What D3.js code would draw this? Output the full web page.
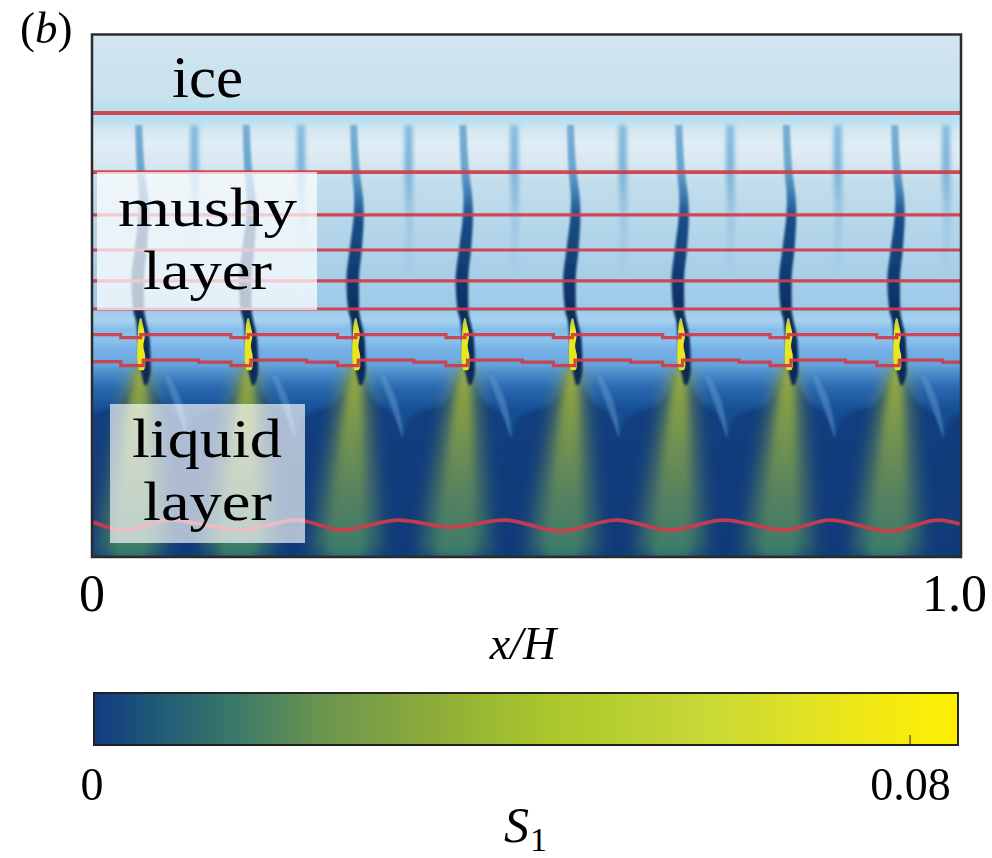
<!DOCTYPE html>
<html>
<head>
<meta charset="utf-8">
<script src="https://cdn.jsdelivr.net/npm/d3@7/dist/d3.min.js"></script>
<style>
  html, body { margin: 0; padding: 0; background: #fff; }
  svg { display: block; }
  text { font-family: "Liberation Serif", serif; fill: #000; }
</style>
</head>
<body>
<div id="chart"></div>
<script>
// values, x and z both in units of H
const plumeX = [0.055, 0.179, 0.303, 0.429, 0.553, 0.678, 0.802, 0.927];
const weakX = [0.117, 0.240, 0.364, 0.486, 0.611, 0.735, 0.859, 0.984];
const lobeEdgeX = [-0.07, 1.052]; // plumes just outside the frame

const xTickValues = [0, 0.993];
const xTickLabels = ['0', '1.0'];
const sTickValues = [0, 0.08];
const sTickLabels = ['0', '0.08'];

// field colour down the depth
const fieldDepth = [0, 0.028, 0.068, 0.079, 0.097, 0.108, 0.1256, 0.1486, 0.166, 0.206, 0.2465, 0.282, 0.3145, 0.328, 0.338, 0.35, 0.362, 0.3744, 0.387, 0.405, 0.42, 0.599];
const fieldColor = ['#d4e6f0', '#cde3ef', '#cbe2ee', '#bbe1ef', '#b6e0f0', '#d4e7f2', '#e1edf4', '#d6e7f1', '#c4deec', '#b8d8ea', '#aed2e9', '#a6cee8', '#9ccaea', '#a6d2ef', '#84bdea', '#8cc3ed', '#74afe6', '#6eaae0', '#3f7dbd', '#1a4f94', '#123f80', '#113a78'];

// lobes under the mushy layer, fraction of the way to the next plume
const lobeFrac = [0.06, 0.12, 0.2, 0.3, 0.38, 0.43, 0.48, 0.6, 0.8, 0.88, 0.93];
const lobeDepth = [0.387, 0.408, 0.424, 0.431, 0.44, 0.462, 0.44, 0.433, 0.425, 0.41, 0.3905];
const lobeTop = 0.3756;

const streakFrac = [0.24, 0.32, 0.38, 0.43];
const streakDepth = [0.3905, 0.4136, 0.4366, 0.462];
const streakWidth = [0.005, 0.009, 0.007, 0.001];

// channels
const channelDepth = [0.1025, 0.154, 0.189, 0.206, 0.2465, 0.281, 0.316, 0.327, 0.35, 0.385, 0.402];
const channelShift = [-0.0023, 0, 0.0035, 0.0035, 0, -0.0035, -0.0023, 0, 0.0035, 0.0058, 0.0058];
const channelWidth = [0.008, 0.009, 0.0104, 0.0115, 0.014, 0.0145, 0.0125, 0.0115, 0.014, 0.0115, 0.0035];
const weakDepth = [0.1025, 0.154, 0.206, 0.25, 0.295];
const weakShift = [0, 0, 0.001, 0, 0];
const weakWidth = [0.0092, 0.0098, 0.009, 0.008, 0.005];

const coreDepth = [0.325, 0.333, 0.345, 0.357, 0.369, 0.38, 0.385];
const coreShift = [0, 0, 0.0008, -0.0004, 0.0006, 0.001, 0.001];
const coreWidth = [0.002, 0.0052, 0.008, 0.007, 0.0092, 0.0085, 0.005];

const plumeDepth = [0.3825, 0.419, 0.4765, 0.534, 0.599];
const plumeHalf = [0.0065, 0.012, 0.019, 0.026, 0.033];
const plumeLean = [0, -0.002, -0.005, -0.008, -0.0115];

// red contours
const flatLineDepths = [0.0887, 0.1567, 0.206, 0.2465, 0.282, 0.3145];
const stepAX = [0, 0.032, 0.055, 0.159, 0.179, 0.282, 0.303, 0.407, 0.429, 0.531, 0.553, 0.657, 0.677, 0.781, 0.802, 0.904, 0.927, 1];
const stepAZ = [0.344, 0.3474, 0.344, 0.3474, 0.344, 0.3474, 0.344, 0.3474, 0.344, 0.3474, 0.344, 0.3474, 0.344, 0.3474, 0.344, 0.3474, 0.344, 0.344];
const stepBX = [0, 0.032, 0.058, 0.122, 0.159, 0.182, 0.2465, 0.282, 0.306, 0.37, 0.407, 0.432, 0.495, 0.531, 0.556, 0.62, 0.657, 0.68, 0.745, 0.781, 0.805, 0.868, 0.904, 0.93, 0.98, 1];
const stepBZ = [0.375, 0.3796, 0.3733, 0.3756, 0.3796, 0.3733, 0.3756, 0.3796, 0.3733, 0.3756, 0.3796, 0.3733, 0.3756, 0.3796, 0.3733, 0.3756, 0.3796, 0.3733, 0.3756, 0.3796, 0.3733, 0.3756, 0.3796, 0.3733, 0.3756, 0.3756];
const waveX = [0, 0.036, 0.09, 0.17, 0.236, 0.286, 0.351, 0.412, 0.476, 0.539, 0.603, 0.666, 0.727, 0.798, 0.85, 0.919, 0.973, 1];
const waveZ = [0.56, 0.5691, 0.5576, 0.5691, 0.5576, 0.5691, 0.5576, 0.5657, 0.5576, 0.5703, 0.5576, 0.5691, 0.5576, 0.5691, 0.5576, 0.5703, 0.5576, 0.5622];

// colour bar
const barValue = [0, 0.006, 0.014, 0.022, 0.034, 0.044, 0.06, 0.076, 0.0847];
const barColor = ['#123a80', '#1f5a78', '#3b7a68', '#6a9450', '#8fae38', '#a9c62c', '#c8d836', '#f0e816', '#fff000'];

const width = 992, height = 858;
const plot = { left: 93, right: 960, top: 36, bottom: 556 };
const bar = { left: 94, right: 958, top: 693, bottom: 745 };

const svg = d3.select('#chart').append('svg').attr('width', width).attr('height', height);
const defs = svg.append('defs');

const x = d3.scaleLinear().domain([0, 1]).range([plot.left, plot.right]);
const z = d3.scaleLinear().domain([0, 0.599]).range([plot.top, plot.bottom]);
const s = d3.scaleLinear().domain([0, 0.0847]).range([bar.left, bar.right]);

function verticalGradient(id, depths, colors) {
    const g = defs.append('linearGradient').attr('id', id)
        .attr('gradientUnits', 'userSpaceOnUse')
        .attr('x1', 0).attr('x2', 0)
        .attr('y1', z(0)).attr('y2', z(0.599));
    depths.forEach((d, i) => g.append('stop').attr('offset', d / 0.599).attr('stop-color', colors[i]));
}

function blur(id, amount) {
    defs.append('filter').attr('id', id)
        .attr('filterUnits', 'userSpaceOnUse')
        .attr('x', 0).attr('y', 0).attr('width', width).attr('height', height)
        .append('feGaussianBlur').attr('stdDeviation', amount);
}

verticalGradient('fieldFill', fieldDepth, fieldColor);
verticalGradient('lobeFill', [0.3756, 0.388, 0.405, 0.43], ['#6eaae0', '#4b8ccc', '#2a69b0', '#174f94']);
verticalGradient('channelFill', [0.1, 0.15, 0.18, 0.21, 0.28, 0.32, 0.4], ['#78aed2', '#6aa6cd', '#3f80b5', '#1a4e88', '#0f3a70', '#0c2f5c', '#0b2a52']);
verticalGradient('weakFill', [0.1, 0.154, 0.21, 0.3], ['#86bbdb', '#7cb4d9', '#a0c8e2', '#a9cfe8']);
verticalGradient('plumeFill', [0.38, 0.419, 0.4765, 0.534, 0.599], ['#a9b436', '#8aa344', '#6f9152', '#568260', '#3b7d6a']);
verticalGradient('coreFill', [0.325, 0.34, 0.385], ['#a9c84a', '#eae820', '#e6e61c']);
blur('soft05', 0.7);
blur('soft1', 1.2);
blur('soft2', 2.2);
blur('soft3', 3.5);
blur('soft8', 9);

defs.append('clipPath').attr('id', 'plotClip').append('rect')
    .attr('x', plot.left).attr('y', plot.top)
    .attr('width', plot.right - plot.left).attr('height', plot.bottom - plot.top);

const field = svg.append('g').attr('clip-path', 'url(#plotClip)');

field.append('rect')
    .attr('x', plot.left).attr('y', plot.top)
    .attr('width', plot.right - plot.left).attr('height', plot.bottom - plot.top)
    .attr('fill', 'url(#fieldFill)');

// band shape around a centre line
const band = d3.area().curve(d3.curveMonotoneY)
    .y(d => z(d.z))
    .x0(d => x(d.x - d.w / 2))
    .x1(d => x(d.x + d.w / 2));

const bandRows = (cx, depths, shifts, widths) =>
    depths.map((d, i) => ({ z: d, x: cx + shifts[i], w: widths[i] }));

// lobes between neighbouring plumes
const allPlumes = [lobeEdgeX[0], ...plumeX, lobeEdgeX[1]];
const lobeLine = d3.line().curve(d3.curveLinear).x(d => x(d[0])).y(d => z(d[1]));
const lobes = field.append('g').attr('filter', 'url(#soft2)');
d3.pairs(allPlumes).forEach(([a, b]) => {
    const edge = lobeFrac.map((f, i) => [a + f * (b - a), lobeDepth[i]]);
    const top = `L${x(edge[edge.length - 1][0])},${z(lobeTop)}L${x(edge[0][0])},${z(lobeTop)}Z`;
    lobes.append('path').attr('d', lobeLine(edge) + top).attr('fill', 'url(#lobeFill)');
});

// pale cusp in each lobe
const streaks = field.append('g').attr('filter', 'url(#soft1)');
d3.pairs(allPlumes).forEach(([a, b]) => {
    const rows = streakFrac.map((f, i) => ({ z: streakDepth[i], x: a + f * (b - a), w: streakWidth[i] }));
    streaks.append('path').attr('d', band(rows)).attr('fill', '#6d9fd3').attr('opacity', 0.45);
});

// channels through the mushy layer
const weakGroup = field.append('g').attr('filter', 'url(#soft2)');
weakX.forEach(cx => {
    weakGroup.append('path').attr('d', band(bandRows(cx, weakDepth, weakShift, weakWidth))).attr('fill', 'url(#weakFill)');
});

const plumes = field.append('g').attr('filter', 'url(#soft8)').attr('opacity', 0.85);
plumeX.forEach(cx => {
    plumes.append('path').attr('d', band(plumeDepth.map((d, i) => ({ z: d, x: cx + plumeLean[i], w: plumeHalf[i] * 2.4 }))))
        .attr('fill', 'url(#plumeFill)');
});
const plumeTops = field.append('g').attr('filter', 'url(#soft3)');
plumeX.forEach(cx => {
    plumeTops.append('path').attr('d', band(plumeDepth.map((d, i) => ({ z: d, x: cx + plumeLean[i], w: plumeHalf[i] * 1.3 }))))
        .attr('fill', 'url(#plumeFill)').attr('opacity', 0.9);
});

const channels = field.append('g').attr('filter', 'url(#soft1)');
plumeX.forEach(cx => {
    channels.append('path').attr('d', band(bandRows(cx, channelDepth, channelShift, channelWidth))).attr('fill', 'url(#channelFill)');
});

const cores = field.append('g').attr('filter', 'url(#soft05)');
plumeX.forEach(cx => {
    cores.append('path').attr('d', band(bandRows(cx, coreDepth, coreShift, coreWidth))).attr('fill', 'url(#coreFill)');
});

// red contours
const contour = d3.line().x(d => x(d[0])).y(d => z(d[1]));
const contours = field.append('g').attr('fill', 'none').attr('stroke', '#d23a4c')
    .attr('stroke-width', 3.2).attr('opacity', 0.92).attr('filter', 'url(#soft05)');
flatLineDepths.forEach((d, i) => {
    contours.append('path').attr('d', contour.curve(d3.curveLinear)([[0, d], [1, d]]))
        .attr('stroke-width', i < 2 ? 3.8 : 3.2);
});
contours.append('path').attr('d', contour.curve(d3.curveStepAfter)(stepAX.map((v, i) => [v, stepAZ[i]])));
contours.append('path').attr('d', contour.curve(d3.curveStepAfter)(stepBX.map((v, i) => [v, stepBZ[i]])));
contours.append('path').attr('d', contour.curve(d3.curveCatmullRom)(waveX.map((v, i) => [v, waveZ[i]]))).attr('stroke-width', 3.8);

// boxes behind the layer names
svg.append('rect').attr('x', 97).attr('y', 172).attr('width', 220).attr('height', 138).attr('fill', '#fff').attr('opacity', 0.72);
svg.append('rect').attr('x', 110).attr('y', 404).attr('width', 195).attr('height', 139).attr('fill', '#fff').attr('opacity', 0.66);

// frame
svg.append('rect')
    .attr('x', plot.left - 1).attr('y', plot.top - 1.5)
    .attr('width', plot.right - plot.left + 2).attr('height', plot.bottom - plot.top + 2.5)
    .attr('fill', 'none').attr('stroke', '#2b2b2b').attr('stroke-width', 2.5);

const label = (txt, px, py, size, len) => {
    svg.append('text').attr('x', px).attr('y', py).attr('font-size', size)
        .attr('textLength', len).attr('lengthAdjust', 'spacingAndGlyphs').text(txt);
};
label('ice', 172, 97, 60, 71);
label('mushy', 118, 226, 55, 179);
label('layer', 143, 289, 55, 129);
label('liquid', 132, 457, 55, 150);
label('layer', 143, 520, 55, 129);

// panel letter
const panel = svg.append('text').attr('x', 20).attr('y', 43).attr('font-size', 45);
panel.append('tspan').text('(');
panel.append('tspan').attr('font-style', 'italic').text('b');
panel.append('tspan').text(')');

// x axis
const xAxis = svg.append('g').attr('transform', `translate(0,${plot.bottom})`)
    .call(d3.axisBottom(x).tickValues(xTickValues).tickSize(0).tickFormat((d, i) => xTickLabels[i]));
xAxis.select('.domain').remove();
xAxis.selectAll('text').attr('font-family', '"Liberation Serif", serif').attr('font-size', 52).attr('dy', 0).attr('y', 55);
xAxis.selectAll('.tick').filter((d, i) => i === 0).attr('transform', 'translate(92,0)');

svg.append('text').attr('x', 523).attr('y', 659).attr('text-anchor', 'middle')
    .attr('font-size', 46).attr('font-style', 'italic').text('x/H');

// colour bar
const barGrad = defs.append('linearGradient').attr('id', 'barFill')
    .attr('gradientUnits', 'userSpaceOnUse')
    .attr('x1', s(0)).attr('x2', s(0.0847)).attr('y1', 0).attr('y2', 0);
barValue.forEach((v, i) => barGrad.append('stop').attr('offset', v / 0.0847).attr('stop-color', barColor[i]));

svg.append('rect')
    .attr('x', bar.left).attr('y', bar.top)
    .attr('width', bar.right - bar.left).attr('height', bar.bottom - bar.top)
    .attr('fill', 'url(#barFill)').attr('stroke', '#222').attr('stroke-width', 2);

svg.append('line').attr('x1', s(0.08)).attr('x2', s(0.08))
    .attr('y1', bar.bottom - 10).attr('y2', bar.bottom).attr('stroke', '#222');

const sAxis = svg.append('g').attr('transform', `translate(0,${bar.bottom})`)
    .call(d3.axisBottom(s).tickValues(sTickValues).tickSize(0).tickFormat((d, i) => sTickLabels[i]));
sAxis.select('.domain').remove();
sAxis.selectAll('text').attr('font-family', '"Liberation Serif", serif').attr('font-size', 46).attr('dy', 0).attr('y', 55);
sAxis.selectAll('.tick').filter((d, i) => i === 0).attr('transform', 'translate(92,0)');

svg.append('text').attr('x', 504).attr('y', 842).attr('font-size', 50).attr('font-style', 'italic').text('S');
svg.append('text').attr('x', 530).attr('y', 851).attr('font-size', 34).text('1');
</script>
</body>
</html>
